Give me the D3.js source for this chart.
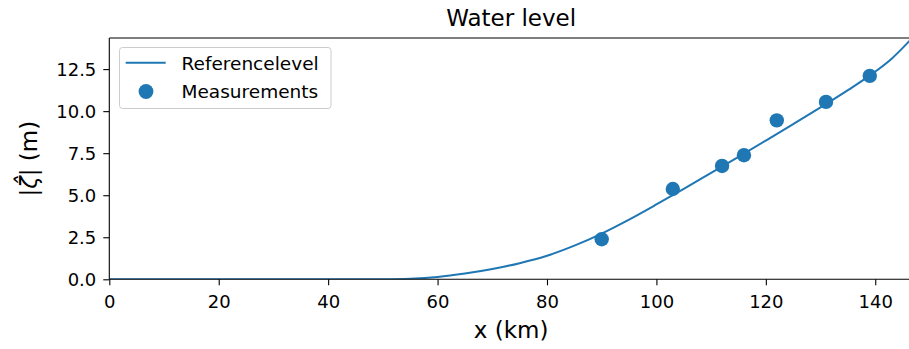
<!DOCTYPE html>
<html>
<head>
<meta charset="utf-8">
<script src="https://cdn.jsdelivr.net/npm/d3@7/dist/d3.min.js"></script>
<style>
  html, body { margin: 0; padding: 0; background: #ffffff; }
  svg { display: block; font-family: "DejaVu Sans", sans-serif; }
</style>
</head>
<body>
<svg id="chart" width="909" height="349"></svg>
<script>
// Modelled reference water level along the estuary (km, m)
const refX = [0, 40, 50, 55, 60, 65, 70, 75, 80, 85, 90, 95, 100, 105, 110, 115, 120, 125, 130, 135, 140, 143, 146.9];
const refLevel = [0, 0, 0.01, 0.04, 0.14, 0.34, 0.61, 0.96, 1.4, 2.0, 2.72, 3.55, 4.45, 5.38, 6.33, 7.28, 8.25, 9.23, 10.22, 11.25, 12.35, 13.12, 14.4];

// Measured stations (km, m)
const measX = [90, 103, 112, 116, 122, 131, 139];
const measLevel = [2.38, 5.37, 6.74, 7.38, 9.45, 10.55, 12.1];

const xTicks = [0, 20, 40, 60, 80, 100, 120, 140];
const yTicks = [0, 2.5, 5, 7.5, 10, 12.5];

const title = "Water level";
const xLabel = "x (km)";
const seriesNames = ["Referencelevel", "Measurements"];

const blue = "#1f77b4";
const margin = { left: 109.3, top: 38, right: 913, bottom: 279.3 };

const svg = d3.select("#chart");

const x = d3.scaleLinear().domain([0, 146.9]).range([margin.left, margin.right]);
const y = d3.scaleLinear().domain([0, 14.35]).range([margin.bottom, margin.top]);

svg.append("defs").append("clipPath").attr("id", "plotClip")
  .append("rect")
  .attr("x", margin.left).attr("y", margin.top)
  .attr("width", margin.right - margin.left)
  .attr("height", margin.bottom - margin.top);

const plot = svg.append("g").attr("clip-path", "url(#plotClip)");

// reference curve
const line = d3.line()
  .x((d, i) => x(refX[i]))
  .y(d => y(d))
  .curve(d3.curveMonotoneX);

plot.append("path")
  .datum(refLevel)
  .attr("d", line)
  .attr("fill", "none")
  .attr("stroke", blue)
  .attr("stroke-width", 2);

// measurement dots
plot.selectAll("circle.meas")
  .data(measX)
  .join("circle")
  .attr("class", "meas")
  .attr("cx", d => x(d))
  .attr("cy", (d, i) => y(measLevel[i]))
  .attr("r", 7.2)
  .attr("fill", blue);

// axes
const xAxis = d3.axisBottom(x).tickValues(xTicks).tickFormat(d3.format("d"))
  .tickSize(6).tickPadding(7);
const yAxis = d3.axisLeft(y).tickValues(yTicks).tickFormat(d3.format(".1f"))
  .tickSize(6).tickPadding(7);

const gx = svg.append("g").attr("transform", `translate(0,${margin.bottom})`).call(xAxis);
const gy = svg.append("g").attr("transform", `translate(${margin.left},0)`).call(yAxis);

[gx, gy].forEach(g => {
  g.select(".domain").remove();
  g.selectAll(".tick line").attr("stroke", "#000").attr("stroke-width", 1.1);
  g.selectAll(".tick text")
    .attr("fill", "#000")
    .style("font-family", "DejaVu Sans")
    .style("font-size", "18px");
});
gx.selectAll(".tick text").attr("dy", null).attr("y", 29);
gy.selectAll(".tick text").attr("dy", "0.36em");

// spines
const spines = svg.append("g").attr("stroke", "#000").attr("stroke-width", 1.1).attr("fill", "none");
spines.append("line").attr("x1", margin.left).attr("x2", margin.right).attr("y1", margin.bottom).attr("y2", margin.bottom);
spines.append("line").attr("x1", margin.left).attr("x2", margin.right).attr("y1", margin.top).attr("y2", margin.top);
spines.append("line").attr("x1", margin.left).attr("x2", margin.left).attr("y1", margin.top).attr("y2", margin.bottom);
spines.append("line").attr("x1", margin.right).attr("x2", margin.right).attr("y1", margin.top).attr("y2", margin.bottom);

// title and axis labels
svg.append("text")
  .attr("x", (margin.left + margin.right) / 2)
  .attr("y", 26)
  .attr("text-anchor", "middle")
  .style("font-size", "23px")
  .text(title);

svg.append("text")
  .attr("x", (margin.left + margin.right) / 2)
  .attr("y", 338)
  .attr("text-anchor", "middle")
  .style("font-size", "23px")
  .text(xLabel);

const yl = svg.append("text")
  .attr("transform", `translate(36.5,${(margin.top + margin.bottom) / 2}) rotate(-90)`)
  .attr("text-anchor", "middle")
  .style("font-size", "23px");
yl.append("tspan").text("|");
yl.append("tspan").style("font-style", "italic").text("\u03B6\u0302");
yl.append("tspan").text("| (m)");

// legend
const lg = svg.append("g");
lg.append("rect")
  .attr("x", 119.5).attr("y", 47.5)
  .attr("width", 211.5).attr("height", 61)
  .attr("rx", 3)
  .attr("fill", "#fff").attr("fill-opacity", 0.8)
  .attr("stroke", "#cccccc").attr("stroke-width", 1);
lg.append("line")
  .attr("x1", 125.7).attr("x2", 165.7)
  .attr("y1", 62.7).attr("y2", 62.7)
  .attr("stroke", blue).attr("stroke-width", 2);
lg.append("circle")
  .attr("cx", 146).attr("cy", 91.5).attr("r", 7.4).attr("fill", blue);
lg.selectAll("text.leg")
  .data(seriesNames)
  .join("text")
  .attr("class", "leg")
  .attr("x", 181.5)
  .attr("y", (d, i) => 70 + i * 27.5)
  .style("font-size", "18.5px")
  .text(d => d);
</script>
</body>
</html>
